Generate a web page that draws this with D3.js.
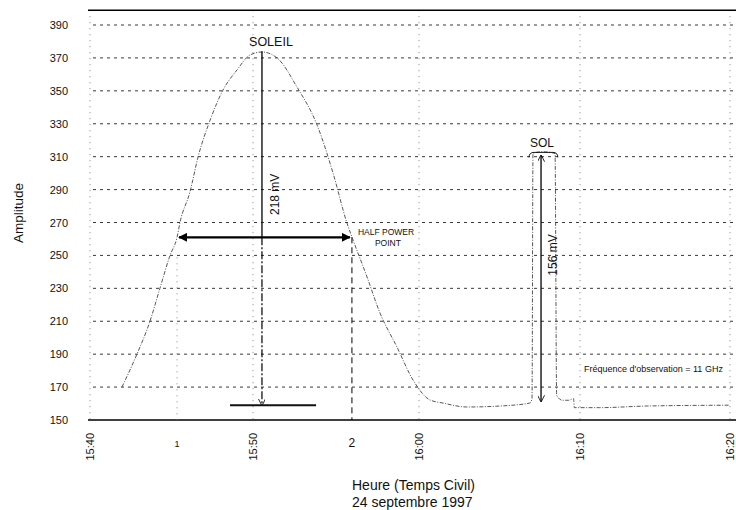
<!DOCTYPE html>
<html><head><meta charset="utf-8">
<script src="https://cdn.jsdelivr.net/npm/d3@7"></script>
<style>
html,body{margin:0;padding:0;background:#fff;overflow:hidden}
svg{display:block;font-family:"Liberation Sans",Arial,sans-serif}
</style></head>
<body>
<script>
// ---- data ----
const xTickMinutes = [0, 10, 20, 30, 40];          // minutes after 15:40
const xTickLabels  = ["15:40", "15:50", "16:00", "16:10", "16:20"];
const yTicks = [150,170,190,210,230,250,270,290,310,330,350,370,390];

// recorded signal (minutes after 15:40, amplitude)
const sigTime = [1.96,2.88,3.68,4.29,4.91,5.34,5.52,6.13,6.63,7.4,8.16,9.02,9.82,10.54,11.45,12.65,13.86,14.82,15.66,15.96,16.87,17.65,18.67,19.64,20.68,21.49,22.98,25.03,26.89,27.02,27.08,27.6,28.45,28.55,28.9,29.3,29.6,29.65,31.3,34.5,40];
const sigAmp  = [170,190,210,230,250,261,270,288.5,309.8,333,350.5,362.7,371.8,373.6,370,352.3,329.2,300.1,269.7,261.2,236.9,215,194.4,174.3,162.2,160.3,157.9,158.5,160.3,163,312,313,312,165,162,162,163,157.5,157.5,158.5,159];

const halfPowerTimes  = [5.34, 15.96];
const halfPowerLabels = ["1", "2"];
const halfPowerAmp    = 261;
const sunPeakTime = 10.54, sunPeakAmp = 374, baseAmp = 159;
const sunBaseTimes = [8.59, 13.8];
const solTime = 27.58, solPeakAmp = 312, solBaseAmp = 160;
const solEdges = [27.02, 28.5];

// ---- layout ----
const W = 736, H = 510;
const svg = d3.select("body").append("svg").attr("width", W).attr("height", H);

const x = d3.scaleLinear().domain(xTickMinutes).range([90, 253, 419, 580, 730]);
const y = d3.scaleLinear().domain([150, 390]).range([420, 25]);
const yTop = y(399);

const defs = svg.append("defs");
defs.append("marker").attr("id","ah").attr("viewBox","0 0 10 10").attr("refX",9).attr("refY",5)
  .attr("markerWidth",9).attr("markerHeight",9).attr("markerUnits","userSpaceOnUse").attr("orient","auto-start-reverse")
  .append("path").attr("d","M0,0L10,5L0,10z").attr("fill","#000");
defs.append("marker").attr("id","ahs").attr("viewBox","0 0 10 10").attr("refX",9).attr("refY",5)
  .attr("markerWidth",7).attr("markerHeight",7).attr("markerUnits","userSpaceOnUse").attr("orient","auto-start-reverse")
  .append("path").attr("d","M0,0L10,5L0,10").attr("fill","none").attr("stroke","#000").attr("stroke-width",1.2);

// horizontal grid
svg.append("g").selectAll("line").data(yTicks.filter(d => d > 150)).join("line")
  .attr("x1", 93).attr("x2", W).attr("y1", d => y(d)).attr("y2", d => y(d))
  .attr("stroke", "#222").attr("stroke-width", 0.9).attr("stroke-dasharray", "3,4");

// vertical grid (dotted)
svg.append("g").selectAll("line").data(xTickMinutes).join("line")
  .attr("x1", d => x(d)).attr("x2", d => x(d)).attr("y1", yTop).attr("y2", y(150))
  .attr("stroke", "#777").attr("stroke-width", 0.9).attr("stroke-dasharray", "1,5");

// frame top
svg.append("line").attr("x1", 88).attr("x2", W).attr("y1", yTop).attr("y2", yTop).attr("stroke","#000").attr("stroke-width",1.4);

// y axis
const yAxis = svg.append("g").attr("transform","translate(88,0)")
  .call(d3.axisLeft(y).tickValues(yTicks).tickSize(0).tickPadding(20));
yAxis.select(".domain").remove();
yAxis.selectAll("text").attr("font-size", 11).attr("fill","#111").attr("font-family","Liberation Sans, Arial, sans-serif");

// x axis
const xAxis = svg.append("g").attr("transform", `translate(0,${y(150)})`)
  .call(d3.axisBottom(x).tickValues(xTickMinutes).tickFormat((d,i) => xTickLabels[i]).tickSize(0));
xAxis.select(".domain").attr("d", `M88,0H${W}`).attr("stroke","#000").attr("stroke-width",1.4);
xAxis.selectAll("text").attr("transform","rotate(-90)").attr("text-anchor","end")
  .attr("x",-13).attr("y",0).attr("dy","0.35em").attr("font-size",11).attr("fill","#111")
  .attr("font-family","Liberation Sans, Arial, sans-serif");

// half-power markers on axis
svg.append("g").selectAll("text").data(halfPowerTimes).join("text")
  .attr("x", d => x(d)).attr("y", 447).attr("text-anchor","middle")
  .attr("font-size", (d,i) => i ? 12 : 9).attr("fill","#111").text((d,i) => halfPowerLabels[i]);

// half power verticals
svg.append("line").attr("x1", x(halfPowerTimes[0])).attr("x2", x(halfPowerTimes[0]))
  .attr("y1", y(halfPowerAmp)+20).attr("y2", y(150)).attr("stroke","#888").attr("stroke-dasharray","1,5");
svg.append("line").attr("x1", x(halfPowerTimes[1])).attr("x2", x(halfPowerTimes[1]))
  .attr("y1", y(halfPowerAmp)).attr("y2", y(150)).attr("stroke","#000").attr("stroke-width",1).attr("stroke-dasharray","6,4");

// signal curve
const line = d3.line().x((d,i) => x(sigTime[i])).y(d => y(d)).curve(d3.curveMonotoneX);
svg.append("path").attr("d", line(sigAmp)).attr("fill","none")
  .attr("stroke","#444").attr("stroke-width",0.9).attr("stroke-dasharray","4,1.5,1,1.5");

// sun amplitude arrow
svg.append("line").attr("x1", x(sunPeakTime)).attr("x2", x(sunPeakTime))
  .attr("y1", y(sunPeakAmp)).attr("y2", y(halfPowerAmp)).attr("stroke","#000").attr("stroke-width",1.3);
svg.append("line").attr("x1", x(sunPeakTime)).attr("x2", x(sunPeakTime))
  .attr("y1", y(halfPowerAmp)).attr("y2", y(baseAmp)).attr("stroke","#000").attr("stroke-width",1.2)
  .attr("stroke-dasharray","8,2,2,2").attr("marker-end","url(#ahs)");
svg.append("line").attr("x1", x(sunBaseTimes[0])).attr("x2", x(sunBaseTimes[1]))
  .attr("y1", y(baseAmp)).attr("y2", y(baseAmp)).attr("stroke","#111").attr("stroke-width",2);

// half power arrow
svg.append("line").attr("x1", x(halfPowerTimes[0])+2).attr("x2", x(halfPowerTimes[1])-2)
  .attr("y1", y(halfPowerAmp)).attr("y2", y(halfPowerAmp)).attr("stroke","#000").attr("stroke-width",2.2)
  .attr("marker-start","url(#ah)").attr("marker-end","url(#ah)");

// SOL arrow
svg.append("line").attr("x1", x(solTime)).attr("x2", x(solTime))
  .attr("y1", y(solPeakAmp)+2).attr("y2", y(solBaseAmp)-2).attr("stroke","#000").attr("stroke-width",1.3)
  .attr("marker-start","url(#ahs)").attr("marker-end","url(#ahs)");
// SOL brace
const bx0 = x(solEdges[0]) - 3, bx1 = x(solEdges[1]) + 2, by = y(solPeakAmp) - 1;
svg.append("path").attr("d", `M${bx0},${by+5}Q${bx0},${by} ${bx0+5},${by}H${bx1-5}Q${bx1},${by} ${bx1},${by+5}`)
  .attr("fill","none").attr("stroke","#000").attr("stroke-width",0.9);

// texts
const t = (txt, xx, yy, fs, opts={}) => {
  const e = svg.append("text").attr("x", xx).attr("y", yy).attr("font-size", fs).attr("fill","#111").text(txt);
  if (opts.anchor) e.attr("text-anchor", opts.anchor);
  if (opts.rot) e.attr("transform", `rotate(-90,${xx},${yy})`);
  return e;
};
t("SOLEIL", x(sunPeakTime) + 9, 46, 12.5, {anchor:"middle"});
t("218 mV", x(sunPeakTime) + 17, (y(sunPeakAmp)+y(halfPowerAmp))/2 + 50, 12, {anchor:"middle", rot:true});
t("HALF POWER", x(halfPowerTimes[1]) + 6, 235, 8.5);
t("POINT", x(halfPowerTimes[1]) + 23, 246, 8.5);
t("SOL", x(solTime) + 1, 147, 12, {anchor:"middle"});
t("156 mV", x(solTime) + 16, 255, 12, {anchor:"middle", rot:true});
t("Fréquence d'observation = 11 GHz", 584, 372, 9);
t("Amplitude", 23, 213, 13.5, {anchor:"middle", rot:true});
t("Heure (Temps Civil)", 352, 490, 14);
t("24 septembre 1997", 352, 507, 14);
</script>
</body></html>
